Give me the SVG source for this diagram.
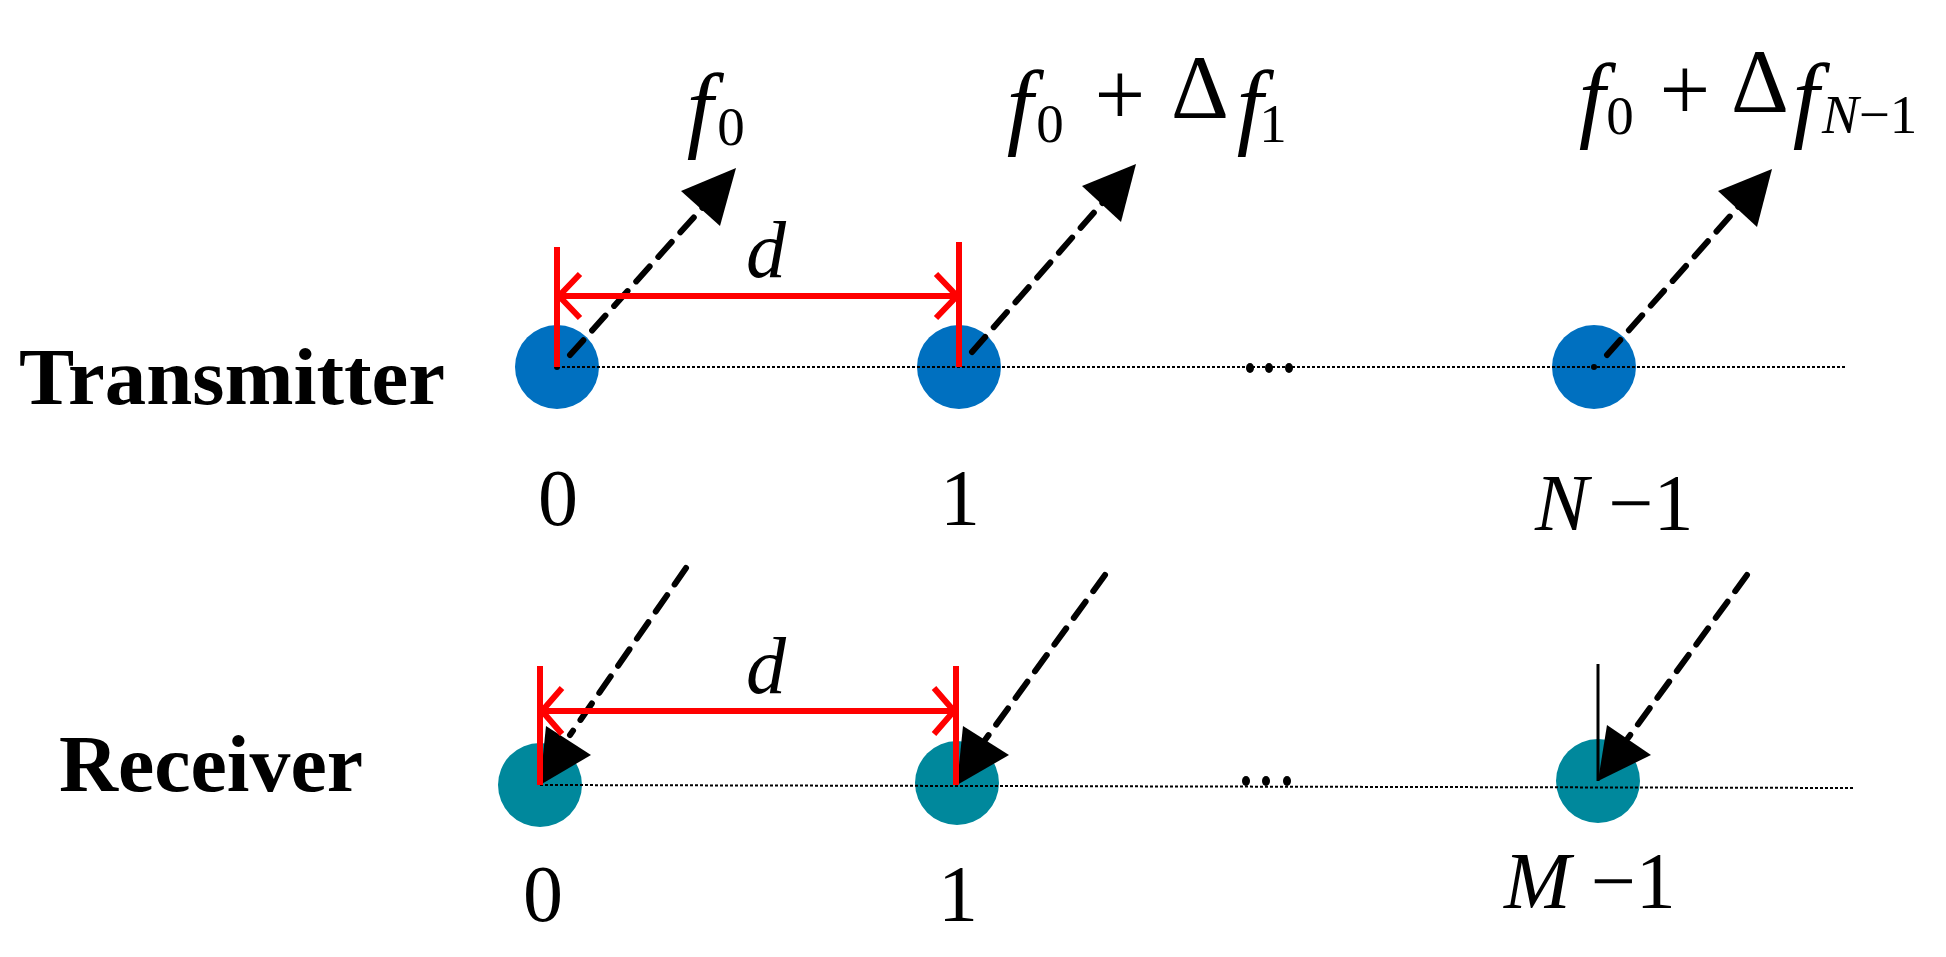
<svg xmlns="http://www.w3.org/2000/svg" width="1946" height="957" viewBox="0 0 1946 957">
<style>
.lbl{font-family:"Liberation Serif",serif;font-size:80px;fill:#000}
.it{font-style:italic}
.f{font-style:italic;font-size:95px}
.sub{font-size:55px}
.op{font-size:90px}
.big{font-family:"Liberation Serif",serif;font-weight:bold;font-size:80px;fill:#000}
.dash{stroke:#000;stroke-width:6;stroke-dasharray:20 13;fill:none;stroke-linecap:round}
.red{stroke:#ff0000;stroke-width:6;fill:none}
.dot{stroke:#000;stroke-width:2;stroke-dasharray:3 2;fill:none}
.tx{fill:#0070c0}
.rx{fill:#00889c}
</style>
<rect width="1946" height="957" fill="#fff"/>
<text class="big" x="19" y="404" textLength="426" lengthAdjust="spacingAndGlyphs">Transmitter</text>
<text class="big" x="59" y="791" textLength="304" lengthAdjust="spacingAndGlyphs">Receiver</text>
<g id="tx0"><ellipse class="tx" cx="557" cy="367" rx="42" ry="42"/></g>
<g id="tx1"><ellipse class="tx" cx="959" cy="367" rx="42" ry="42"/></g>
<g id="tx2"><ellipse class="tx" cx="1594" cy="367" rx="42" ry="42"/></g>
<g id="rx0"><ellipse class="rx" cx="540" cy="785" rx="42" ry="42"/></g>
<g id="rx1"><ellipse class="rx" cx="957" cy="783" rx="42" ry="42"/></g>
<g id="rx2"><ellipse class="rx" cx="1598" cy="781" rx="42" ry="42"/></g>
<g id="connectors">
<line class="dot" x1="557" y1="367" x2="1846" y2="367"/>
<line class="dot" x1="540" y1="785" x2="1853" y2="788"/>
<circle cx="557" cy="367" r="3"/>
<circle cx="1594" cy="367" r="3"/>
<g fill="#000"><ellipse cx="1250" cy="368" rx="4" ry="5"/><ellipse cx="1269" cy="368" rx="4" ry="5"/><ellipse cx="1289" cy="368" rx="4" ry="5"/>
<ellipse cx="1246" cy="781" rx="4" ry="5"/><ellipse cx="1266" cy="781" rx="4" ry="5"/><ellipse cx="1287" cy="781" rx="4" ry="5"/></g>
<line class="dash" x1="570" y1="355" x2="705" y2="205"/>
<polygon points="736,168 681,191 720,226"/>
<line class="dash" x1="972" y1="352" x2="1105" y2="200"/>
<polygon points="1136,164 1082,186 1121,222"/>
<line class="dash" x1="1607" y1="355" x2="1740" y2="205"/>
<polygon points="1772,169 1718,191 1757,227"/>
<line class="dash" x1="686" y1="568" x2="570" y2="735"/>
<polygon points="540,785 546,726 591,755"/>
<line class="dash" x1="1105" y1="575" x2="985" y2="740"/>
<polygon points="957,785 963,726 1009,755"/>
<line class="dash" x1="1747" y1="575" x2="1628" y2="738"/>
<polygon points="1598,781 1607,725 1651,755"/>
<line x1="1598" y1="664" x2="1598" y2="781" stroke="#000" stroke-width="3"/>
<line class="red" x1="557" y1="247" x2="557" y2="367"/>
<line class="red" x1="959" y1="242" x2="959" y2="367"/>
<line class="red" x1="557" y1="296" x2="959" y2="296"/>
<polyline class="red" points="580,274 559,296 580,318"/>
<polyline class="red" points="936,274 957,296 936,318"/>
<line class="red" x1="540" y1="666" x2="540" y2="785"/>
<line class="red" x1="956" y1="666" x2="956" y2="785"/>
<line class="red" x1="540" y1="711" x2="956" y2="711"/>
<polyline class="red" points="562,688 542,711 562,734"/>
<polyline class="red" points="934,688 954,711 934,734"/>
</g>
<text class="lbl it" x="766" y="277" text-anchor="middle">d</text>
<text class="lbl it" x="766" y="693" text-anchor="middle">d</text>
<text class="lbl f" x="700" y="140" text-anchor="middle">f</text>
<text class="lbl sub" x="731" y="145" text-anchor="middle">0</text>
<text class="lbl f" x="1020" y="137" text-anchor="middle">f</text>
<text class="lbl sub" x="1050" y="142" text-anchor="middle">0</text>
<text class="lbl op" x="1120" y="125" text-anchor="middle">+</text>
<text class="lbl op" x="1200" y="118" text-anchor="middle">Δ</text>
<text class="lbl f" x="1250" y="137" text-anchor="middle">f</text>
<text class="lbl sub" x="1273" y="142" text-anchor="middle">1</text>
<text class="lbl f" x="1592" y="130" text-anchor="middle">f</text>
<text class="lbl sub" x="1620" y="134" text-anchor="middle">0</text>
<text class="lbl op" x="1685" y="120" text-anchor="middle">+</text>
<text class="lbl op" x="1760" y="112" text-anchor="middle">Δ</text>
<text class="lbl f" x="1806" y="130" text-anchor="middle">f</text>
<text class="lbl sub" x="1822" y="133"><tspan class="it">N</tspan>−1</text>
<text class="lbl" x="558" y="525" text-anchor="middle">0</text>
<text class="lbl" x="960" y="525" text-anchor="middle">1</text>
<text class="lbl" x="1535" y="530"><tspan class="it">N</tspan> −1</text>
<text class="lbl" x="543" y="921" text-anchor="middle">0</text>
<text class="lbl" x="958" y="921" text-anchor="middle">1</text>
<text class="lbl" x="1504" y="908"><tspan class="it">M</tspan> −1</text>
</svg>
